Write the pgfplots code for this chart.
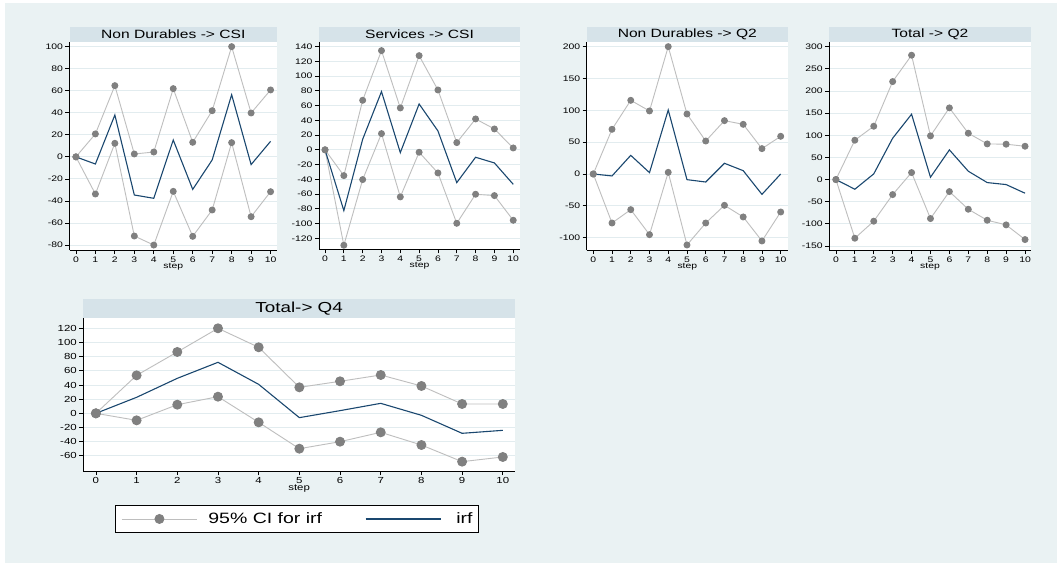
\documentclass[border=0pt]{standalone}
\usepackage{fontspec}
\setmainfont{Liberation Sans}[FakeStretch=1.3]
\usepackage{pgfplots}
\pgfplotsset{compat=1.18}
\definecolor{bgc}{RGB}{234,242,243}
\definecolor{stripc}{RGB}{214,227,233}
\definecolor{gridc}{RGB}{226,236,239}
\definecolor{cigray}{RGB}{190,190,190}
\definecolor{mkgray}{RGB}{128,128,128}
\definecolor{navyc}{RGB}{26,71,111}

\pgfplotsset{
 irf/.style={
  scale only axis,
  axis background/.style={fill=white},
  axis x line*=bottom, axis y line*=left,
  axis line style={black, line width=0.9pt, -},
  tick align=outside,
  major tick length=4pt,
  tick style={black, line width=0.8pt},
  ymajorgrids, grid style={gridc, line width=0.9pt},
  xtick={0,...,10},
  /pgf/number format/assume math mode=true,
  tick label style={font=\fontsize{8}{8}\selectfont},
  xticklabel style={yshift=1pt},
  yticklabel style={xshift=1pt},
  xlabel={step},
  xlabel style={font=\fontsize{8}{8}\selectfont, yshift=6pt},
  clip=false,
 },
 ci/.style={cigray, line width=0.9pt, mark=*, mark size=3pt, mark options={draw=mkgray, fill=mkgray}},
 irfl/.style={navyc, line width=1.1pt, no marks},
}

\begin{document}
\begin{tikzpicture}
\useasboundingbox (0pt,0pt) rectangle (1057pt,-563pt);
\fill[white] (0pt,0pt) rectangle (1057pt,-563pt);
\fill[bgc] (5pt,-3pt) rectangle (1057pt,-563pt);

% strips
\fill[stripc] (69.5pt,-27pt) rectangle (277pt,-42pt);
\node[font=\fontsize{12}{12}\selectfont] at (173.25pt,-34.5pt) {Non Durables -> CSI};
\fill[stripc] (319pt,-27pt) rectangle (520pt,-42pt);
\node[font=\fontsize{12}{12}\selectfont] at (419.5pt,-34.5pt) {Services -> CSI};
\fill[stripc] (586.7pt,-27pt) rectangle (788pt,-42pt);
\node[font=\fontsize{12}{12}\selectfont] at (687.35pt,-34.5pt) {Non Durables -> Q2};
\fill[stripc] (829.3pt,-27pt) rectangle (1030.7pt,-42pt);
\node[font=\fontsize{12}{12}\selectfont] at (930pt,-34.5pt) {Total -> Q2};
\fill[stripc] (83.3pt,-299.3pt) rectangle (515pt,-318.3pt);
\node[font=\fontsize{14.5}{14.5}\selectfont] at (299.15pt,-308.8pt) {Total-> Q4};

% Panel 1
\begin{axis}[irf, at={(69.5pt,-250pt)}, anchor=south west,
  width=207.5pt, height=208pt,
  xmin=-0.33, xmax=10.33, ymin=-84.5, ymax=104.2,
  ytick={-80,-60,...,100}]
\addplot[ci] coordinates {(0,0)(1,20.8)(2,64.6)(3,2.6)(4,4.4)(5,61.9)(6,13.2)(7,41.9)(8,100)(9,39.8)(10,60.7)};
\addplot[ci] coordinates {(0,0)(1,-33.7)(2,12.3)(3,-71.8)(4,-80)(5,-31.3)(6,-72.1)(7,-48.2)(8,12.9)(9,-54.3)(10,-31.6)};
\addplot[irfl] coordinates {(0,0)(1,-6.5)(2,38)(3,-34.6)(4,-37.6)(5,15.3)(6,-29.5)(7,-2.8)(8,56.4)(9,-7)(10,14.1)};
\end{axis}

% Panel 2
\begin{axis}[irf, at={(319pt,-249.3pt)}, anchor=south west,
  width=201pt, height=207.3pt,
  xmin=-0.32, xmax=10.36, ymin=-135, ymax=146.3,
  ytick={-120,-100,...,140}]
\addplot[ci] coordinates {(0,0)(1,-35)(2,67.2)(3,134.6)(4,56.8)(5,127.8)(6,81.2)(7,9.8)(8,41.9)(9,28.3)(10,2.5)};
\addplot[ci] coordinates {(0,0)(1,-129.5)(2,-40.4)(3,22)(4,-63.9)(5,-3.3)(6,-31.4)(7,-99.7)(8,-60.3)(9,-62.1)(10,-95.6)};
\addplot[irfl] coordinates {(0,0)(1,-82.5)(2,14.3)(3,79)(4,-3.8)(5,62.2)(6,25.6)(7,-44.5)(8,-10.1)(9,-17.8)(10,-46.8)};
\end{axis}

% Panel 3
\begin{axis}[irf, at={(586.7pt,-250pt)}, anchor=south west,
  width=201.3pt, height=208pt,
  xmin=-0.35, xmax=10.39, ymin=-119.4, ymax=207.3,
  ytick={-100,-50,...,200}]
\addplot[ci] coordinates {(0,0)(1,70.2)(2,115.7)(3,99)(4,200)(5,94.2)(6,51.8)(7,83.8)(8,78)(9,39.8)(10,59.2)};
\addplot[ci] coordinates {(0,0)(1,-77)(2,-56)(3,-95.3)(4,2.6)(5,-111.5)(6,-77)(7,-49.2)(8,-67.5)(9,-105.2)(10,-59.7)};
\addplot[irfl] coordinates {(0,0)(1,-3.1)(2,29.3)(3,2.1)(4,100.5)(5,-8.9)(6,-12.6)(7,16.8)(8,5.2)(9,-32)(10,0)};
\end{axis}

% Panel 4
\begin{axis}[irf, at={(829.3pt,-250pt)}, anchor=south west,
  width=201.4pt, height=208pt,
  xmin=-0.35, xmax=10.3, ymin=-159, ymax=310.5,
  ytick={-150,-100,...,300}]
\addplot[ci] coordinates {(0,0)(1,88.8)(2,120.4)(3,221.2)(4,280.7)(5,98.6)(6,161.8)(7,104.6)(8,80.5)(9,79.8)(10,75.2)};
\addplot[ci] coordinates {(0,0)(1,-132.4)(2,-94)(3,-33.9)(4,15.8)(5,-88)(6,-27.1)(7,-67)(8,-91.8)(9,-102.3)(10,-135.4)};
\addplot[irfl] coordinates {(0,0)(1,-21.8)(2,12.8)(3,93.3)(4,147.5)(5,5.3)(6,67)(7,18.8)(8,-6.8)(9,-11.3)(10,-30.8)};
\end{axis}

% Panel 5
\begin{axis}[irf, at={(83.3pt,-471pt)}, anchor=south west,
  width=431.7pt, height=152.7pt,
  xmin=-0.31, xmax=10.3, ymin=-81.4, ymax=134.1,
  ytick={-60,-40,...,120},
  tick label style={font=\fontsize{8.8}{8.8}\selectfont},
  xlabel style={font=\fontsize{8.8}{8.8}\selectfont},
  legend columns=2,
  legend image code/.code={\draw[mark repeat=2,mark phase=2,#1] plot coordinates {(0pt,0pt)(37.5pt,0pt)(75pt,0pt)};},
  legend style={at={(0.495,-0.314)}, anchor=center, draw=black, line width=0.8pt, fill=white,
    font=\fontsize{15}{15}\selectfont, inner xsep=6pt, inner ysep=7pt,
    nodes={inner sep=0pt},
    /tikz/column 1/.style={column sep=11pt},
    /tikz/column 2/.style={column sep=43pt},
    /tikz/column 3/.style={column sep=15pt}},
  ]
\addplot[ci, mark size=4.5pt] coordinates {(0,0)(1,53.6)(2,86.6)(3,120)(4,93.2)(5,36.7)(6,45.2)(7,54.1)(8,38.6)(9,13.2)(10,13.2)};
\addlegendentry{95\% CI for irf}
\addplot[ci, mark size=4.5pt, forget plot] coordinates {(0,0)(1,-9.9)(2,12.2)(3,23.5)(4,-12.7)(5,-49.9)(6,-40)(7,-26.8)(8,-44.7)(9,-68.2)(10,-61.6)};
\addplot[irfl] coordinates {(0,0)(1,22.6)(2,49.4)(3,72)(4,40.9)(5,-6.1)(6,3.8)(7,14.1)(8,-2.8)(9,-28.2)(10,-24)};
\addlegendentry{irf}
\end{axis}
\end{tikzpicture}
\end{document}
